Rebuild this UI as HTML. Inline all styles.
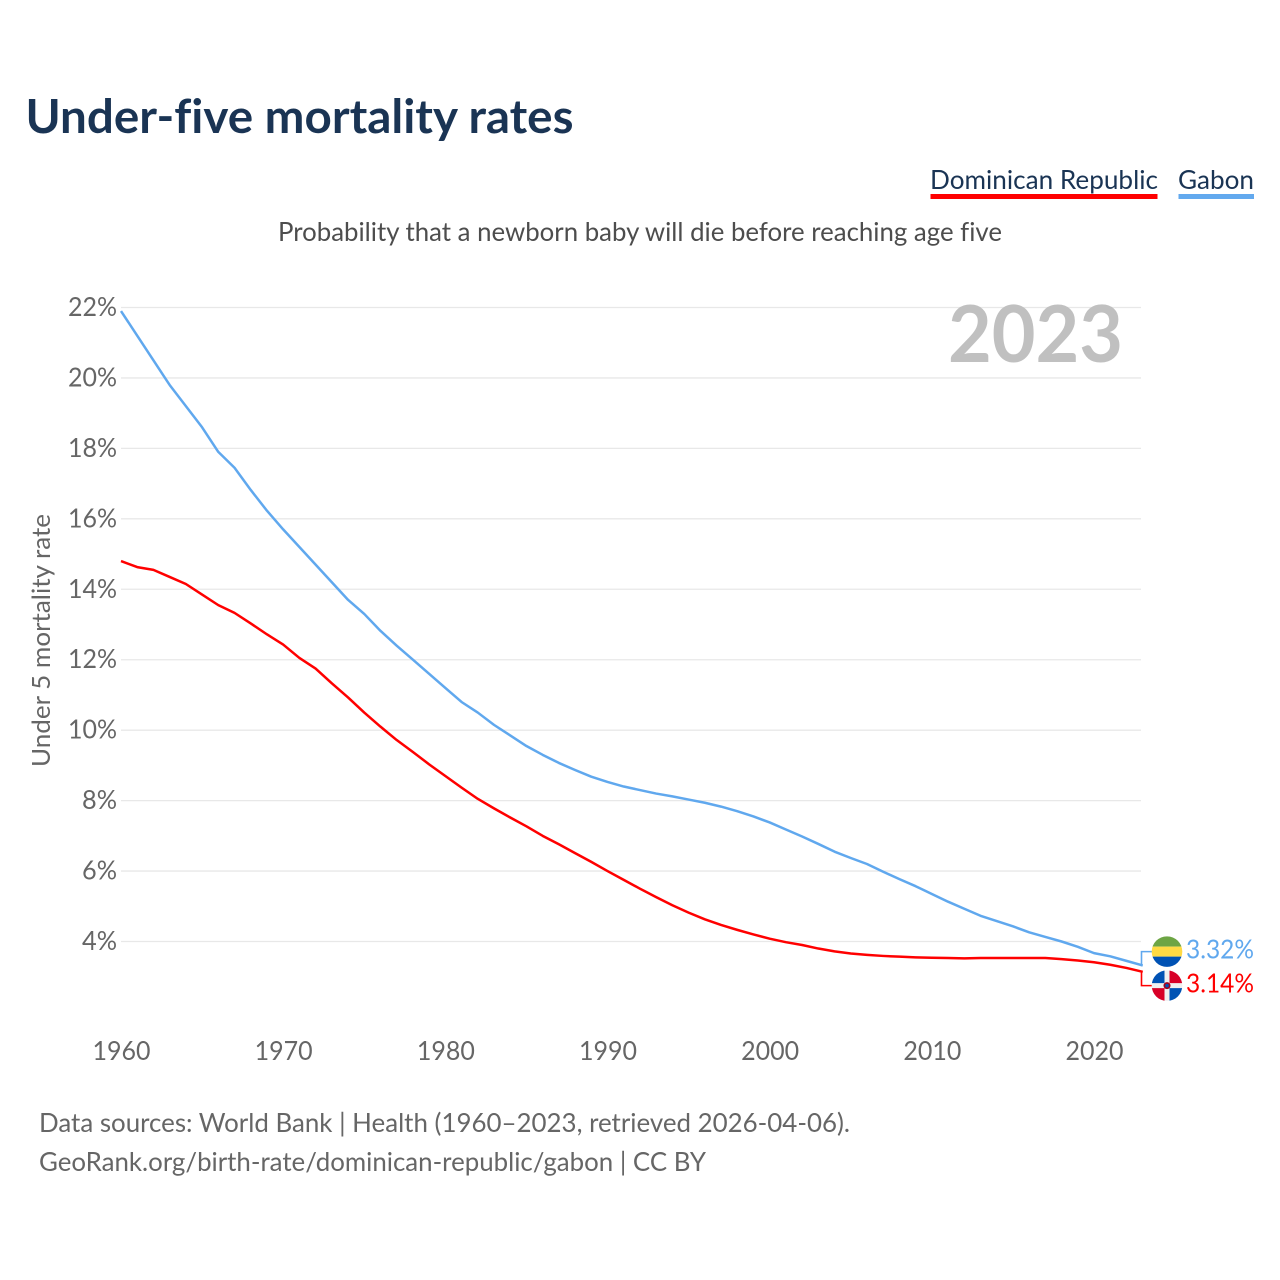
<!DOCTYPE html>
<html lang="en">
<head>
<meta charset="utf-8">
<title>Under-five mortality rates</title>
<style>
html,body{margin:0;padding:0;background:#fff;width:1280px;height:1280px;overflow:hidden}
svg{display:block}
text{font-family:"Lato","Carlito","Liberation Sans","DejaVu Sans",sans-serif;font-variant-ligatures:none}
</style>
</head>
<body>
<svg id="chart" xmlns="http://www.w3.org/2000/svg" width="1280" height="1280" viewBox="0 0 1280 1280">
  <rect x="0" y="0" width="1280" height="1280" fill="#ffffff"/>
  <text x="25.500" y="133" font-size="47" font-weight="700" fill="#1a3454" textLength="548" lengthAdjust="spacingAndGlyphs">Under-five mortality rates</text>
  <g>
    <text x="930" y="189" font-size="26.500" fill="#1a3454" textLength="228" lengthAdjust="spacingAndGlyphs">Dominican Republic</text>
    <rect x="930.500" y="194" width="227" height="5" fill="#ff0000"/>
  </g>
  <g>
    <text x="1178" y="189" font-size="26.500" fill="#1a3454" textLength="76" lengthAdjust="spacingAndGlyphs">Gabon</text>
    <rect x="1178.500" y="194" width="75.500" height="5" fill="#63a9ee"/>
  </g>
  <text x="278" y="241" font-size="26.500" fill="#4d4d4d" textLength="724" lengthAdjust="spacingAndGlyphs">Probability that a newborn baby will die before reaching age five</text>
  <text transform="translate(50 767) rotate(-90)" x="0" y="0" font-size="25.500" fill="#666666" textLength="253" lengthAdjust="spacingAndGlyphs">Under 5 mortality rate</text>
  <g id="grid"></g>
  <g id="yticks"></g>
  <g id="xticks"></g>
  <text id="yearLabel" x="948" y="362" font-size="79" font-weight="700" fill="#c0c0c0" textLength="175" lengthAdjust="spacingAndGlyphs"></text>
  <g id="series"></g>
  <g id="ends"></g>
  <text x="39" y="1132" font-size="26.500" fill="#666666" textLength="811" lengthAdjust="spacingAndGlyphs">Data sources: World Bank | Health (1960–2023, retrieved 2026-04-06).</text>
  <text x="39" y="1171" font-size="26.500" fill="#666666" textLength="667" lengthAdjust="spacingAndGlyphs">GeoRank.org/birth-rate/dominican-republic/gabon | CC BY</text>
</svg>
<script>
const startYear = 1960;
const xTickYears = [1960, 1970, 1980, 1990, 2000, 2010, 2020];
const yTickValues = [4, 6, 8, 10, 12, 14, 16, 18, 20, 22];
const gabonValues = [21.9,21.2,20.5,19.8,19.2,18.6,17.9,17.45,16.82,16.23,15.7,15.2,14.7,14.2,13.7,13.3,12.82,12.4,12.0,11.6,11.2,10.8,10.5,10.15,9.85,9.55,9.3,9.07,8.87,8.68,8.53,8.4,8.3,8.2,8.12,8.03,7.94,7.83,7.7,7.55,7.38,7.18,6.98,6.77,6.55,6.37,6.2,5.98,5.77,5.57,5.35,5.13,4.93,4.73,4.58,4.43,4.26,4.13,4.0,3.85,3.67,3.58,3.45,3.32];
const dominicanValues = [14.8,14.63,14.55,14.35,14.15,13.85,13.55,13.33,13.03,12.72,12.43,12.05,11.75,11.33,10.93,10.5,10.1,9.72,9.38,9.03,8.7,8.37,8.05,7.78,7.52,7.27,7.0,6.76,6.51,6.26,6.0,5.75,5.5,5.26,5.03,4.82,4.63,4.47,4.33,4.2,4.08,3.98,3.9,3.8,3.72,3.66,3.62,3.59,3.57,3.55,3.54,3.53,3.52,3.53,3.53,3.53,3.53,3.53,3.5,3.46,3.41,3.34,3.25,3.14];

const SVGNS = 'http://www.w3.org/2000/svg';
const gridG = document.getElementById('grid');
const yTicksG = document.getElementById('yticks');
const xTicksG = document.getElementById('xticks');
const seriesG = document.getElementById('series');
const endsG = document.getElementById('ends');

function xScale(year) { return 121 + (year - 1960) * 16.217; }
function yScale(v) { return 941.5 - (v - 4) * 35.222; }
function make(tag, attrs) {
  const el = document.createElementNS(SVGNS, tag);
  for (const k in attrs) el.setAttribute(k, attrs[k]);
  return el;
}

yTickValues.forEach(function (v) {
  const y = yScale(v);
  const line = make('line', {x1: 121, x2: 1141, y1: y, y2: y, stroke: '#e8e8e8', 'stroke-width': 1.300});
  
  
  gridG.appendChild(line);
  const t = make('text', {x: 117, y: y + 8.500, 'text-anchor': 'end', 'font-size': 26, fill: '#666666', textLength: v < 10 ? 35 : 49, lengthAdjust: 'spacingAndGlyphs'});
  
  
  t.textContent = v + '%';
  yTicksG.appendChild(t);
});

xTickYears.forEach(function (yr) {
  const t = make('text', {x: xScale(yr) + 0.500, y: 1060, 'text-anchor': 'middle', 'font-size': 26, fill: '#666666', textLength: 58, lengthAdjust: 'spacingAndGlyphs'});
  
  
  t.textContent = yr;
  xTicksG.appendChild(t);
});

function pathFor(values) {
  return values.map(function (v, i) {
    return (i ? 'L' : 'M') + xScale(startYear + i).toFixed(2) + ' ' + yScale(v).toFixed(2);
  }).join(' ');
}

const gabonLine = make('path', {d: pathFor(gabonValues), fill: 'none', stroke: '#60a8ee', 'stroke-width': 2.500, 'stroke-linejoin': 'round'});


seriesG.appendChild(gabonLine);

const dominicanLine = make('path', {d: pathFor(dominicanValues), fill: 'none', stroke: '#ff0000', 'stroke-width': 2.500, 'stroke-linejoin': 'round'});


seriesG.appendChild(dominicanLine);

const lastIndex = gabonValues.length - 1;
const lastYear = startYear + lastIndex;
document.getElementById('yearLabel').textContent = lastYear;

const gabonLast = gabonValues[lastIndex];
const dominicanLast = dominicanValues[lastIndex];
const gabonEndY = yScale(gabonLast);
const dominicanEndY = yScale(dominicanLast);
const mid = (gabonEndY + dominicanEndY) / 2;
const gabonOnTop = gabonEndY <= dominicanEndY;
const gabonFlagY = gabonOnTop ? mid - 17 : mid + 17;
const dominicanFlagY = gabonOnTop ? mid + 17 : mid - 17;
const endX = xScale(lastYear);
const flagX = 1167;

const defs = make('defs', {});
const clipA = make('clipPath', {id: 'clip-gabon'});
clipA.appendChild(make('circle', {cx: flagX, cy: gabonFlagY, r: 15.300}));
defs.appendChild(clipA);
const clipB = make('clipPath', {id: 'clip-dominican'});
clipB.appendChild(make('circle', {cx: flagX, cy: dominicanFlagY, r: 15.300}));
defs.appendChild(clipB);
endsG.appendChild(defs);

const gabonConnector = make('path', {d: 'M' + endX + ' ' + gabonEndY + ' L1141.500 ' + gabonEndY + ' L1141.500 ' + gabonFlagY + ' L1152 ' + gabonFlagY, fill: 'none', stroke: '#60a8ee', 'stroke-width': 1.600});


endsG.appendChild(gabonConnector);

const dominicanConnector = make('path', {d: 'M' + endX + ' ' + dominicanEndY + ' L1141.500 ' + dominicanEndY + ' L1141.500 ' + dominicanFlagY + ' L1152 ' + dominicanFlagY, fill: 'none', stroke: '#ff0000', 'stroke-width': 1.600});


endsG.appendChild(dominicanConnector);

const gabonFlag = make('g', {'clip-path': 'url(#clip-gabon)'});


gabonFlag.appendChild(make('rect', {x: flagX - 16, y: gabonFlagY - 16, width: 32, height: 11, fill: '#6da544'}));
gabonFlag.appendChild(make('rect', {x: flagX - 16, y: gabonFlagY - 5, width: 32, height: 10, fill: '#ffda44'}));
gabonFlag.appendChild(make('rect', {x: flagX - 16, y: gabonFlagY + 5, width: 32, height: 11, fill: '#0052b4'}));
endsG.appendChild(gabonFlag);

const dominicanFlag = make('g', {'clip-path': 'url(#clip-dominican)'});


dominicanFlag.appendChild(make('rect', {x: flagX - 16, y: dominicanFlagY - 16, width: 32, height: 32, fill: '#f0f0f0'}));
dominicanFlag.appendChild(make('rect', {x: flagX - 16, y: dominicanFlagY - 16, width: 13.500, height: 13.500, fill: '#0052b4'}));
dominicanFlag.appendChild(make('rect', {x: flagX + 2.500, y: dominicanFlagY - 16, width: 13.500, height: 13.500, fill: '#d80027'}));
dominicanFlag.appendChild(make('rect', {x: flagX - 16, y: dominicanFlagY + 2.500, width: 13.500, height: 13.500, fill: '#d80027'}));
dominicanFlag.appendChild(make('rect', {x: flagX + 2.500, y: dominicanFlagY + 2.500, width: 13.500, height: 13.500, fill: '#0052b4'}));
dominicanFlag.appendChild(make('circle', {cx: flagX, cy: dominicanFlagY, r: 3.500, fill: '#a2001d'}));
dominicanFlag.appendChild(make('circle', {cx: flagX, cy: dominicanFlagY, r: 1.800, fill: '#0052b4'}));
endsG.appendChild(dominicanFlag);

const gabonValueLabel = make('text', {x: 1186, y: gabonFlagY + 7, 'font-size': 26, fill: '#60a8ee', textLength: 68, lengthAdjust: 'spacingAndGlyphs'});


gabonValueLabel.textContent = gabonLast.toFixed(2) + '%';
endsG.appendChild(gabonValueLabel);

const dominicanValueLabel = make('text', {x: 1186, y: dominicanFlagY + 7, 'font-size': 26, fill: '#ff0000', textLength: 68, lengthAdjust: 'spacingAndGlyphs'});


dominicanValueLabel.textContent = dominicanLast.toFixed(2) + '%';
endsG.appendChild(dominicanValueLabel);
</script>
</body>
</html>
